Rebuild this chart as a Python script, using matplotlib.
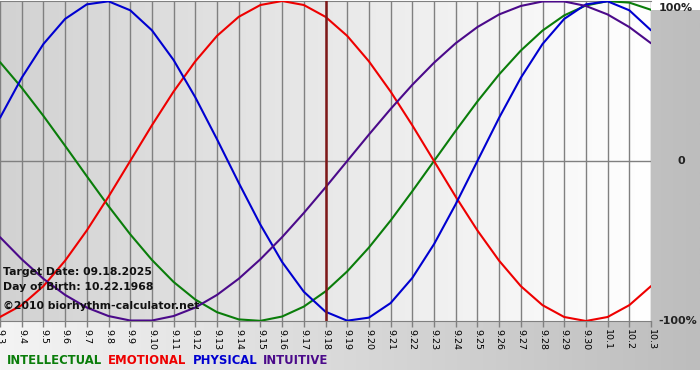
import numpy as np
import matplotlib
matplotlib.use('Agg')
import matplotlib.pyplot as plt
from matplotlib.colors import LinearSegmentedColormap

# day labels, 9.3 .. 10.3
DAYS = ['9.3', '9.4', '9.5', '9.6', '9.7', '9.8', '9.9', '9.10', '9.11', '9.12',
        '9.13', '9.14', '9.15', '9.16', '9.17', '9.18', '9.19', '9.20', '9.21',
        '9.22', '9.23', '9.24', '9.25', '9.26', '9.27', '9.28', '9.29', '9.30',
        '10.1', '10.2', '10.3']
TARGET = '9.18'

INTELLECTUAL = [0.618, 0.458, 0.282, 0.095, -0.095, -0.282, -0.458, -0.618,
                -0.756, -0.866, -0.945, -0.990, -0.999, -0.972, -0.910, -0.815,
                -0.690, -0.541, -0.372, -0.189, 0.0, 0.189, 0.372, 0.541,
                0.690, 0.815, 0.910, 0.972, 0.999, 0.990, 0.945]
EMOTIONAL = [-0.975, -0.901, -0.782, -0.623, -0.434, -0.223, 0.0, 0.223,
             0.434, 0.623, 0.782, 0.901, 0.975, 1.0, 0.975, 0.901,
             0.782, 0.623, 0.434, 0.223, 0.0, -0.223, -0.434, -0.623,
             -0.782, -0.901, -0.975, -1.0, -0.975, -0.901, -0.782]
PHYSICAL = [0.270, 0.520, 0.731, 0.888, 0.979, 0.998, 0.942, 0.817,
            0.631, 0.398, 0.136, -0.136, -0.398, -0.631, -0.817, -0.942,
            -0.998, -0.979, -0.888, -0.731, -0.520, -0.270, 0.0, 0.270,
            0.520, 0.731, 0.888, 0.979, 0.998, 0.942, 0.817]
INTUITIVE = [-0.476, -0.614, -0.736, -0.837, -0.916, -0.969, -0.997, -0.997,
             -0.969, -0.916, -0.837, -0.736, -0.614, -0.476, -0.325, -0.165,
             0.0, 0.165, 0.325, 0.476, 0.614, 0.736, 0.837, 0.916,
             0.969, 0.997, 0.997, 0.969, 0.916, 0.837, 0.736]

SERIES = [('INTELLECTUAL', INTELLECTUAL, '#0a7d0a'),
          ('EMOTIONAL',    EMOTIONAL,    '#ee0000'),
          ('PHYSICAL',     PHYSICAL,     '#0000d0'),
          ('INTUITIVE',    INTUITIVE,    '#4b0a8a')]

fig = plt.figure(figsize=(7, 3.8), dpi=100)

# figure background gradient (light left -> gray right), white strip at bottom
bg = fig.add_axes([0, 10 / 380, 1, 360 / 380], zorder=-10)
grad_fig = LinearSegmentedColormap.from_list('gf', ['#f4f4f4', '#bdbdbd'])
bg.imshow(np.linspace(0, 1, 256)[None, :], aspect='auto', cmap=grad_fig,
          extent=[0, 1, 0, 1])
bg.axis('off')

ax = fig.add_axes([0, 59 / 380, 651 / 700, 320 / 380])
x = np.arange(len(DAYS))
ax.set_xlim(0, len(DAYS) - 1)
ax.set_ylim(-1.0, 1.0)

grad_ax = LinearSegmentedColormap.from_list('ga', ['#d2d2d2', '#ffffff'])
ax.imshow(np.linspace(0, 1, 256)[None, :], aspect='auto', cmap=grad_ax,
          extent=[0, len(DAYS) - 1, -1, 1], zorder=0)

for xi in x:
    ax.axvline(xi, color='#808080', lw=1.0, zorder=1)
ax.axhline(0, color='#808080', lw=1.0, zorder=1)

for name, vals, col in SERIES:
    ax.plot(x, vals, color=col, lw=1.5, zorder=3, solid_capstyle='round')

ax.axvline(DAYS.index(TARGET), color='#7e1818', lw=1.8, zorder=4)

ax.set_xticks(x)
ax.set_xticklabels(DAYS, rotation=-90, fontsize=6.8, va='top', ha='center')
ax.tick_params(axis='x', length=4, width=1, color='#808080', pad=2)
ax.set_yticks([])
for s in ['left', 'right']:
    ax.spines[s].set_visible(False)
for s in ['top', 'bottom']:
    ax.spines[s].set_color('#808080')

# right-hand percentage labels
for val, lab in [(1.0, '100%'), (0.0, '0'), (-1.0, '-100%')]:
    yy = min(val, 0.955)
    ax.text(1.012 if lab != '0' else 1.04, yy, lab, transform=ax.get_yaxis_transform(),
            ha='left', va='center', fontsize=8, fontweight='bold', color='#222222',
            clip_on=False)

# info text inside plot
info = ['Target Date: 09.18.2025', 'Day of Birth: 10.22.1968',
        '\u00a92010 biorhythm-calculator.net']
for t, yy in zip(info, [108, 93, 74]):
    fig.text(3 / 700, yy / 380, t, fontsize=7.8, fontweight='bold',
             color='#111111', ha='left', va='center', zorder=10)

# legend words
xpos = 7
for name, vals, col in SERIES:
    t = fig.text(xpos / 700, 19 / 380, name, color=col, fontsize=8.4,
                 fontweight='bold', ha='left', va='center')
    fig.canvas.draw()
    bb = t.get_window_extent()
    xpos = bb.x1 + 6

fig.savefig('out.png', dpi=100)
